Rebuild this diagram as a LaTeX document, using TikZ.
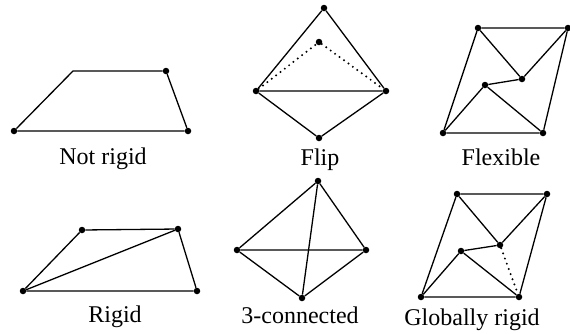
\documentclass[tikz,border=0pt]{standalone}
\usepackage{fontspec}
\setmainfont{Liberation Serif}
\begin{document}
\begin{tikzpicture}[x=1pt,y=-1pt,
  vdot/.style={circle,fill=black,inner sep=0pt,minimum size=6.5pt},
  edge/.style={line width=1.3pt},
  dotedge/.style={line width=2.2pt,line cap=round,dash pattern=on 0pt off 5.5pt},
  lbl/.style={anchor=base,inner sep=0pt,font=\fontsize{24}{26}\selectfont}]
\useasboundingbox (0,0) rectangle (570,333);
% Not rigid
\node[vdot] (a1) at (14,131) {};
\coordinate (a2) at (73,71);
\node[vdot] (a3) at (166,71) {};
\node[vdot] (a4) at (188,131) {};
\draw[edge] (a1) -- (a2) -- (a3) -- (a4) -- (a1);
\node[lbl] (la) at (103,164) {Not rigid};
% Flip
\node[vdot] (b1) at (324,8) {};
\node[vdot] (b2) at (319,42) {};
\node[vdot] (b3) at (256,91) {};
\node[vdot] (b4) at (386,91) {};
\node[vdot] (b5) at (319,138) {};
\draw[edge] (b3) -- (b1) -- (b4) -- (b3) -- (b5) -- (b4);
\draw[dotedge] (b3) -- (b2) -- (b4);
\node[lbl] (lb) at (320,165) {Flip};
% Flexible
\node[vdot] (c1) at (478,28) {};
\node[vdot] (c2) at (568,28) {};
\node[vdot] (c3) at (522,79) {};
\node[vdot] (c4) at (485,85) {};
\node[vdot] (c5) at (443,133) {};
\node[vdot] (c6) at (543,133) {};
\draw[edge] (c1) -- (c2) -- (c6) -- (c5) -- (c1);
\draw[edge] (c1) -- (c3) -- (c2);
\draw[edge] (c3) -- (c4) -- (c5);
\draw[edge] (c4) -- (c6);
\node[lbl] (lc) at (501,165) {Flexible};
% Rigid
\node[vdot] (d1) at (23,291) {};
\node[vdot] (d2) at (82,230) {};
\node[vdot] (d3) at (178,229) {};
\node[vdot] (d4) at (197,291) {};
\draw[edge] (d1) -- (d2) -- (d3) -- (d4) -- (d1);
\draw[edge] (d1) -- (d3);
\node[lbl] (ld) at (115,322) {Rigid};
% 3-connected
\node[vdot] (e1) at (318,181) {};
\node[vdot] (e2) at (237,250) {};
\node[vdot] (e3) at (366,250) {};
\node[vdot] (e4) at (302,298) {};
\draw[edge] (e2) -- (e1) -- (e3) -- (e2) -- (e4) -- (e3);
\draw[edge] (e1) -- (e4);
\node[lbl] (le) at (300,323) {3-connected};
% Globally rigid
\node[vdot] (f1) at (457,194) {};
\node[vdot] (f2) at (547,194) {};
\node[vdot] (f3) at (500,245) {};
\node[vdot] (f4) at (461,251) {};
\node[vdot] (f5) at (421,297) {};
\node[vdot] (f6) at (519,297) {};
\draw[edge] (f1) -- (f2) -- (f6) -- (f5) -- (f1);
\draw[edge] (f1) -- (f3) -- (f2);
\draw[edge] (f3) -- (f4) -- (f5);
\draw[edge] (f4) -- (f6);
\draw[dotedge] (f3) -- (f6);
\node[lbl] (lf) at (472,325) {Globally rigid};
\end{tikzpicture}
\end{document}
